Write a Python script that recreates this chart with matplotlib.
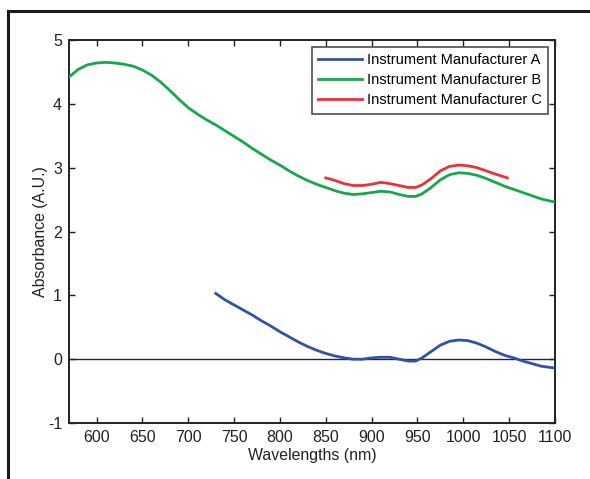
import matplotlib
matplotlib.use("Agg")
import matplotlib.pyplot as plt
from matplotlib.lines import Line2D

plt.rcParams["font.family"] = ["Liberation Sans", "DejaVu Sans"]
plt.rcParams["axes.unicode_minus"] = False

_BLUE = "#3352a3"
_GREEN = "#17a84b"
_RED = "#ec3139"
_ZERO = "#1c2060"

# Instrument Manufacturer B
wl_b = [570, 580, 590, 600, 610, 620, 630, 640, 650, 660, 670, 680, 690, 700,
        710, 720, 730, 740, 750, 760, 770, 780, 790, 800, 810, 820, 830, 840,
        850, 860, 870, 880, 890, 900, 910, 920, 930, 940, 948, 955, 965, 975,
        985, 995, 1005, 1015, 1025, 1035, 1045, 1055, 1065, 1075, 1085, 1100]
abs_b = [4.42, 4.54, 4.61, 4.64, 4.65, 4.64, 4.62, 4.59, 4.53, 4.45, 4.34, 4.21,
         4.07, 3.94, 3.84, 3.75, 3.67, 3.58, 3.49, 3.40, 3.30, 3.21, 3.12, 3.04,
         2.95, 2.87, 2.80, 2.74, 2.69, 2.64, 2.60, 2.58, 2.59, 2.61, 2.63, 2.62,
         2.58, 2.55, 2.55, 2.59, 2.69, 2.81, 2.89, 2.92, 2.91, 2.88, 2.83, 2.77,
         2.71, 2.66, 2.61, 2.56, 2.51, 2.46]

# Instrument Manufacturer C
wl_c = [850, 860, 870, 880, 890, 900, 910, 920, 930, 940, 948, 955, 965, 975,
        985, 995, 1005, 1015, 1025, 1035, 1048]
abs_c = [2.84, 2.80, 2.75, 2.72, 2.72, 2.74, 2.77, 2.75, 2.72, 2.69, 2.69, 2.73,
         2.83, 2.95, 3.02, 3.04, 3.03, 3.00, 2.95, 2.90, 2.84]

# Instrument Manufacturer A
wl_a = [730, 740, 750, 760, 770, 780, 790, 800, 810, 820, 830, 840, 850, 860,
        870, 880, 890, 900, 910, 920, 930, 940, 948, 955, 965, 975, 985, 995,
        1005, 1015, 1025, 1035, 1045, 1055, 1065, 1075, 1085, 1100]
abs_a = [1.03, 0.93, 0.85, 0.77, 0.69, 0.60, 0.52, 0.43, 0.35, 0.27, 0.20, 0.14,
         0.09, 0.05, 0.02, 0.00, 0.00, 0.02, 0.03, 0.03, 0.00, -0.03, -0.03, 0.02,
         0.12, 0.22, 0.28, 0.30, 0.29, 0.25, 0.19, 0.12, 0.06, 0.02, -0.03, -0.07,
         -0.11, -0.14]

x_ticks = [600, 650, 700, 750, 800, 850, 900, 950, 1000, 1050, 1100]
y_ticks = [-1, 0, 1, 2, 3, 4, 5]

fig = plt.figure(figsize=(5.9, 4.79), dpi=100)
ax = fig.add_axes([69 / 590, 1 - 423 / 479, (555 - 69) / 590, (423 - 40) / 479])

ax.axhline(0, color=_ZERO, linewidth=1.0, zorder=1)
ax.plot(wl_a, abs_a, color=_BLUE, linewidth=2, label="Instrument Manufacturer A", zorder=3)
ax.plot(wl_b, abs_b, color=_GREEN, linewidth=2, label="Instrument Manufacturer B", zorder=3)
ax.plot(wl_c, abs_c, color=_RED, linewidth=2, label="Instrument Manufacturer C", zorder=3)

ax.set_xlim(570, 1100)
ax.set_ylim(-1, 5)
ax.set_xticks(x_ticks)
ax.set_yticks(y_ticks)
ax.tick_params(direction="in", top=True, right=True, labelsize=11.5,
               length=4, width=1, colors="#222222", pad=5)
for spine in ax.spines.values():
    spine.set_linewidth(1.4)
    spine.set_color("#222222")

ax.set_xlabel("Wavelengths (nm)", fontsize=11.4, color="#222222", labelpad=2)
ax.set_ylabel("Absorbance (A.U.)", fontsize=11.4, color="#222222", labelpad=0)

leg = ax.legend(loc="upper right", fontsize=10.5, frameon=True, fancybox=False,
                borderaxespad=0.45, handlelength=3.0, handletextpad=0.35,
                labelspacing=0.42, borderpad=0.45)
leg.get_frame().set_edgecolor("#222222")
leg.get_frame().set_linewidth(1.2)

# partial outer frame (top and left edges)
fig.add_artist(Line2D([8 / 590, 8 / 590], [0, 1 - 11 / 479], transform=fig.transFigure,
                      color="#1a1a1a", linewidth=2.2))
fig.add_artist(Line2D([8 / 590, 1], [1 - 11 / 479, 1 - 11 / 479], transform=fig.transFigure,
                      color="#1a1a1a", linewidth=2.2))

fig.savefig("out.png")
plt.close(fig)
